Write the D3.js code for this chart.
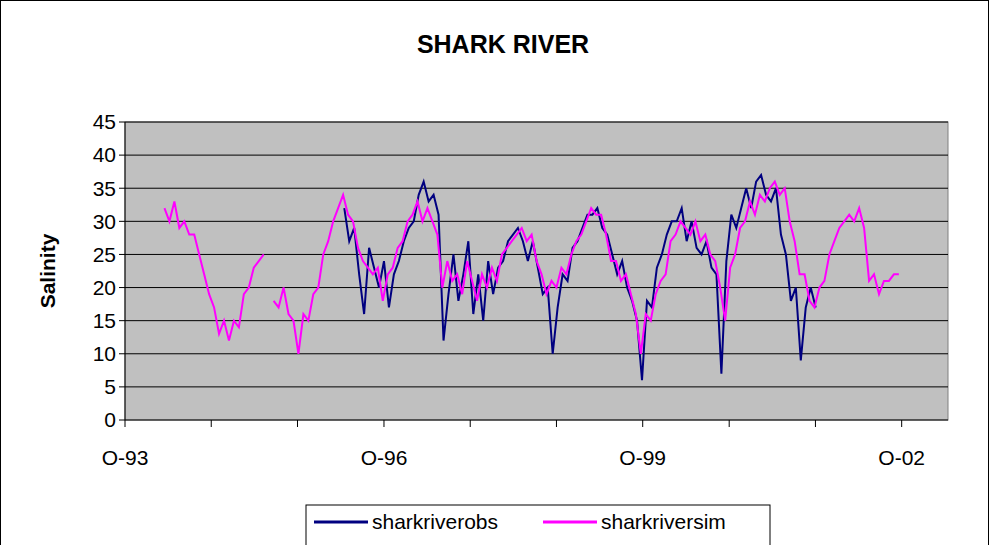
<!DOCTYPE html>
<html><head><meta charset="utf-8">
<script src="https://cdn.jsdelivr.net/npm/d3@7"></script>
<style>body{margin:0;background:#fff;font-family:Arial,"Liberation Sans",sans-serif}</style>
</head><body><svg id="c" width="990" height="545"></svg>
<script>
const simStart = "1994-03-17", obsStart = "1996-04-16", stepDays = 21;
const simValues = [32,30,33,29,30,28,28,25,22,19,17,13,15,12,15,14,19,20,23,24,25,null,18,17,20,16,15,10,16,15,19,20,25,27,30,32,34,31,30,26,24,23,22,23,18,22,23,26,27,30,31,33,30,32,30,28,20,24,21,22,19,24,21,18,22,20,23,21,25,26,27,28,29,27,28,24,22,19,21,20,23,22,25,27,28,30,32,31,31,28,24,24,21,22,19,16,10,16,15,19,21,22,27,28,30,29,28,30,27,28,25,24,20,15,23,25,29,30,33,31,34,33,35,36,34,35,30,27,22,22,18,17,20,21,25,27,29,30,31,30,32,29,21,22,19,21,21,22,22];
const obsValues = [32,27,29,22,16,26,23,20,24,17,22,24,27,29,30,34,36,33,34,31,12,19,25,18,22,27,16,22,15,24,19,23,24,27,28,29,27,24,27,23,19,20,10,17,22,21,26,27,29,31,31,32,29,28,25,22,24,20,18,15,6,18,17,23,25,28,30,30,32,27,30,26,25,27,23,22,7,24,31,29,32,35,32,36,37,34,33,35,28,25,18,20,9,17,20,17];
const yTicks = [0,5,10,15,20,25,30,35,40,45];
const tickYears = [1993,1994,1995,1996,1997,1998,1999,2000,2001,2002];
const labelYears = [1993,1996,1999,2002];

function series(start, vals){
  const d0 = new Date(start+"T00:00:00");
  return vals.map((v,i)=>({d:d3.timeDay.offset(d0,i*stepDays),v}));
}
const sim = series(simStart, simValues);
const obs = series(obsStart, obsValues);

const svg = d3.select("#c");
svg.append("rect").attr("x",0.5).attr("y",0.5).attr("width",988).attr("height",560).attr("fill","#fff").attr("stroke","#000");
const L=125,R=948,T=122,B=420;
const x = d3.scaleTime().domain([new Date(1993,9,1), new Date(2003,3,15)]).range([L,R]);
const y = d3.scaleLinear().domain([0,45]).range([B,T]);
svg.append("rect").attr("x",L).attr("y",T).attr("width",R-L).attr("height",B-T).attr("fill","#C0C0C0").attr("stroke","#808080");
yTicks.forEach(t=>{ if(t>0) svg.append("line").attr("x1",L).attr("x2",R).attr("y1",y(t)).attr("y2",y(t)).attr("stroke","#000").attr("stroke-width",1);});
const line = d3.line().defined(d=>d.v!=null).x(d=>x(d.d)).y(d=>y(d.v));
const g = svg.append("g");
g.append("path").datum(obs).attr("d",line).attr("fill","none").attr("stroke","#000080").attr("stroke-width",2);
g.append("path").datum(sim).attr("d",line).attr("fill","none").attr("stroke","#FF00FF").attr("stroke-width",2);
svg.append("line").attr("x1",L).attr("x2",L).attr("y1",T).attr("y2",B).attr("stroke","#000");
svg.append("line").attr("x1",L).attr("x2",R).attr("y1",B).attr("y2",B).attr("stroke","#000");
yTicks.forEach(t=>{
  svg.append("line").attr("x1",L-6).attr("x2",L).attr("y1",y(t)).attr("y2",y(t)).attr("stroke","#000");
  svg.append("text").attr("x",L-9).attr("y",y(t)).attr("dy","0.35em").attr("text-anchor","end").attr("font-size",21).text(t);
});
tickYears.forEach(yr=>{
  const xx = x(new Date(yr,9,1));
  svg.append("line").attr("x1",xx).attr("x2",xx).attr("y1",B).attr("y2",B+7).attr("stroke","#000");
});
labelYears.forEach(yr=>{
  svg.append("text").attr("x",x(new Date(yr,9,1))).attr("y",B+45).attr("text-anchor","middle").attr("font-size",21).text("O-"+String(yr).slice(2));
});
svg.append("text").attr("x",503).attr("y",53).attr("text-anchor","middle").attr("font-size",25).attr("font-weight","bold").text("SHARK RIVER");
svg.append("text").attr("transform","translate(55,271) rotate(-90)").attr("text-anchor","middle").attr("font-size",21).attr("font-weight","bold").text("Salinity");
const lg = svg.append("g");
lg.append("rect").attr("x",306).attr("y",505).attr("width",464).attr("height",50).attr("fill","#fff").attr("stroke","#000");
[["sharkriverobs","#000080",314],["sharkriversim","#FF00FF",543]].forEach(([n,c,lx])=>{
  lg.append("line").attr("x1",lx).attr("x2",lx+54).attr("y1",522).attr("y2",522).attr("stroke",c).attr("stroke-width",3);
  lg.append("text").attr("x",lx+58).attr("y",522).attr("dy","0.35em").attr("font-size",21).text(n);
});
</script></body></html>
